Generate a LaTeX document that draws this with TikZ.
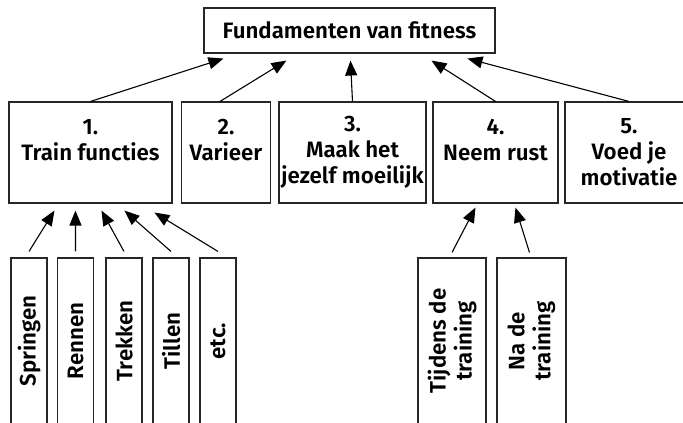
\documentclass[tikz,border=0pt]{standalone}
\usepackage{fontspec}
\setmainfont{Fira Sans SemiBold}
\usetikzlibrary{arrows.meta,calc}
\begin{document}
\begin{tikzpicture}[x=1pt,y=-1pt,
  font=\fontsize{22.3}{26}\selectfont,
  box/.style={draw=black!85,line width=1.1pt,inner sep=0pt,align=center},
  rowbox/.style={box,minimum height=101pt},
  vbox/.style={box,rotate=90,minimum width=166pt,minimum height=36pt},
  conn/.style={line width=1.1pt,-{Triangle[length=15pt,width=12pt]}}]
\clip (0,0) rectangle (683,423);
\node[box,minimum width=291pt,minimum height=45pt] (top) at (349.5,30.5) {Fundamenten van fitness};
\node[rowbox,minimum width=163pt] (b1) at (90.5,152.5) {1.\\Train functies\\\mbox{}};
\node[rowbox,minimum width=89pt] (b2) at (226,152.5) {2.\\Varieer\\\mbox{}};
\node[rowbox,minimum width=147pt] (b3) at (352.5,152.5) {3.\\Maak het\\jezelf moeilijk};
\node[rowbox,minimum width=125pt] (b4) at (495.5,152.5) {4.\\Neem rust\\\mbox{}};
\node[rowbox,minimum width=128pt] (b5) at (629,152.5) {5.\\Voed je\\motivatie};
\node[vbox] (s1) at (29,341) {Springen};
\node[vbox] (s2) at (75.5,341) {Rennen};
\node[vbox] (s3) at (124,341) {Trekken};
\node[vbox] (s4) at (171,341) {Tillen};
\node[vbox] (s5) at (218,341) {etc.};
\node[vbox,minimum height=68pt] (t1) at (452,341) {Tijdens de\\training};
\node[vbox,minimum height=69pt] (t2) at (531.5,341) {Na de\\training};
% top arrows
\draw[conn] (b1.north) -- ($(top.south west)+(20,5)$);
\draw[conn] ($(b2.north)+(-6,0)$) -- ($(top.south west)+(83,7)$);
\draw[conn] (b3.north) -- ($(top.south west)+(147,7)$);
\draw[conn] (b4.north) -- ($(top.south west)+(228,7)$);
\draw[conn] (b5.north) -- ($(top.south west)+(264,5)$);
% bottom arrows
\draw[conn] ($(s1.east)+(0,-6)$) -- ($(b1.south west)+(46,7)$);
\draw[conn] ($(s2.east)+(0,-6)$) -- ($(b1.south west)+(67,7)$);
\draw[conn] ($(s3.east)+(0,-6)$) -- ($(b1.south west)+(93,7)$);
\draw[conn] ($(s4.east)+(0,-6)$) -- ($(b1.south west)+(116,7)$);
\draw[conn] ($(s5.east)+(0,-6)$) -- ($(b1.south west)+(146,9)$);
\draw[conn] ($(t1.east)+(0,-5)$) -- ($(b4.south west)+(43,4)$);
\draw[conn] ($(t2.east)+(-2,-5)$) -- ($(b4.south west)+(83,4)$);
\end{tikzpicture}
\end{document}
